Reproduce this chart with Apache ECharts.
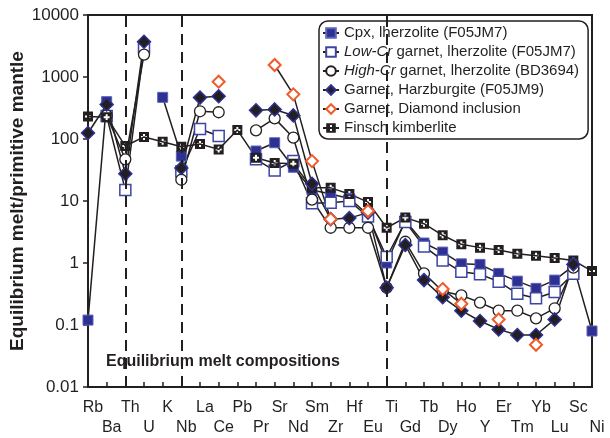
<!DOCTYPE html>
<html>
<head>
<meta charset="utf-8">
<script src="https://cdn.jsdelivr.net/npm/echarts@6/dist/echarts.min.js"></script>
<style>
  html, body { margin: 0; padding: 0; background: #fff; }
  #chart { width: 610px; height: 438px; }
</style>
</head>
<body>
<div id="chart"></div>
<script>
// Trace elements, ordered left to right along the spider diagram
const elements = ['Rb','Ba','Th','U','K','Nb','La','Ce','Pb','Pr','Sr','Nd','Sm','Zr',
                  'Hf','Eu','Ti','Gd','Tb','Dy','Ho','Y','Er','Tm','Yb','Lu','Sc','Ni'];

// Equilibrium melt / primitive mantle (null = not determined)
const cpxLherz = [0.12, 400, null, null, 470, 53, null, null, null, 64, 87, 35, 15, 13,
                  11, 6, 1.0, 4.8, 2.1, 1.5, 0.97, 0.95, 0.68, 0.51, 0.39, 0.53, 0.9, 0.08];
const lowCrGrt = [null, 235, 15, 3000, null, 30, 145, 112, null, 47, 31, 44, 9.2, 9.4,
                  10, 5.6, 1.25, 4.6, 1.85, 1.1, 0.72, 0.66, 0.5, 0.32, 0.27, 0.34, 0.67, null];
const highCrGrt = [null, 240, 47, 2300, null, 22, 280, 270, null, 138, 215, 105, 10.5, 3.7,
                   3.7, 3.7, 0.4, 2.2, 0.68, 0.35, 0.3, 0.23, 0.17, 0.17, 0.128, 0.186, 0.84, null];
const harzGrt = [125, 360, 27.5, 3700, null, 34, 465, 490, null, 290, 300, 240, 19, 5.1,
                 5.3, 6.5, 0.4, 1.95, 0.53, 0.28, 0.17, 0.116, 0.085, 0.069, 0.069, 0.123, 0.95, null];
const diamondInclGrt = [null, null, null, null, null, null, null, 840, null, null, 1560, 525, 44, 5.1,
                        null, 6.9, null, null, null, 0.38, 0.22, null, 0.123, null, 0.048, null, null, null];
const finschKimb = [230, 225, 77, 108, 90, 75, 83, 68, 140, 50, 41, 40, 16.3, 16.3,
                    13, 9.6, 3.7, 5.4, 4.3, 2.8, 2.0, 1.77, 1.62, 1.41, 1.31, 1.2, 1.1, 0.74];

// Decade tick labels of the log axis
const yTickLabels = ['0.01', '0.1', '1', '10', '100', '1000', '10000'];
// Element boundaries marked with dashed lines
const dividers = ['Th', 'Nb', 'Ti'];

const FONT = "'Liberation Sans', Arial, sans-serif";
const INK = '#231f20';
const NAVY = '#2e3192';

// black square with a white cross cut out of it
const KIMB_SYMBOL = 'path://M0,0L10,0L10,10L0,10Z M4,2L4,4L2,4L2,6L4,6L4,8L6,8L6,6L8,6L8,4L6,4L6,2Z';

function lineSeries(name, data, symbol, size, itemStyle, extra) {
  return Object.assign({
    name, type: 'line', data, symbol, symbolSize: size,
    showAllSymbol: true, connectNulls: false, clip: false,
    lineStyle: { color: INK, width: 1.5 },
    itemStyle, emphasis: { disabled: true }
  }, extra || {});
}

const series = [
  lineSeries('Cpx, lherzolite (F05JM7)', cpxLherz, 'rect', 10,
    { color: NAVY, borderColor: '#5b63b8', borderWidth: 1 }, {
      markLine: {
        silent: true, symbol: 'none', label: { show: false },
        lineStyle: { color: INK, width: 2, type: [11, 7] },
        data: dividers.map(d => ({ xAxis: d }))
      }
    }),
  lineSeries('Low-Cr garnet, lherzolite (F05JM7)', lowCrGrt, 'rect', 11,
    { color: '#fff', borderColor: '#3d45a3', borderWidth: 1.5 }),
  lineSeries('High-Cr garnet, lherzolite (BD3694)', highCrGrt, 'circle', 11,
    { color: '#fff', borderColor: INK, borderWidth: 1.3 }),
  lineSeries('Finsch kimberlite', finschKimb, KIMB_SYMBOL, 10,
    { color: INK }),
  lineSeries('Garnet, Harzburgite (F05JM9)', harzGrt, 'diamond', 13,
    { color: INK, borderColor: NAVY, borderWidth: 1.5 }),
  lineSeries('Garnet, Diamond inclusion', diamondInclGrt, 'diamond', 12,
    { color: '#fff', borderColor: '#f15a29', borderWidth: 2 })
];

const legendNames = [
  'Cpx, lherzolite (F05JM7)',
  'Low-Cr garnet, lherzolite (F05JM7)',
  'High-Cr garnet, lherzolite (BD3694)',
  'Garnet, Harzburgite (F05JM9)',
  'Garnet, Diamond inclusion',
  'Finsch kimberlite'
];

const chart = echarts.init(document.getElementById('chart'), null, { renderer: 'canvas' });
chart.setOption({
  animation: false,
  backgroundColor: '#fff',
  textStyle: { fontFamily: FONT, color: INK },
  grid: {
    left: 88, right: 18, top: 15, bottom: 51,
    outerBoundsMode: 'none', containLabel: false,
    show: true, borderColor: INK, borderWidth: 2, backgroundColor: 'transparent'
  },
  legend: {
    data: legendNames,
    orient: 'vertical', left: 319, top: 21,
    padding: [4, 9, 3, 3],
    itemWidth: 16, itemHeight: 12, itemGap: 3,
    backgroundColor: '#fff',
    borderColor: INK, borderWidth: 1.5, borderRadius: 9,
    selectedMode: false,
    formatter: name => name.replace(/^(Low-Cr|High-Cr)/, '{i|$1}'),
    textStyle: {
      fontFamily: FONT, fontSize: 15, color: INK, lineHeight: 16,
      rich: { i: { fontFamily: FONT, fontSize: 15, fontStyle: 'italic', color: INK } }
    }
  },
  xAxis: {
    type: 'category', data: elements, boundaryGap: false,
    axisLine: { lineStyle: { color: INK, width: 2 } },
    axisTick: { inside: true, length: 5, interval: 0, lineStyle: { color: INK, width: 1.5 } },
    axisLabel: {
      interval: 0, fontFamily: FONT, fontSize: 16, color: INK,
      lineHeight: 20, margin: 11, padding: [0, 0, 0, 10],
      formatter: (v, i) => (i % 2 ? '\n' + v : v)
    },
    splitLine: { show: false }
  },
  yAxis: {
    type: 'log', logBase: 10, min: 0.01, max: 10000,
    name: 'Equilibrium melt/primitive mantle',
    nameLocation: 'middle', nameGap: 61, nameMoveOverlap: false,
    nameTextStyle: { fontFamily: FONT, fontSize: 19, fontWeight: 'bold', color: INK },
    axisLine: { show: true, lineStyle: { color: INK, width: 2 } },
    axisTick: { show: true, length: 5, lineStyle: { color: INK, width: 1.5 } },
    axisLabel: {
      fontFamily: FONT, fontSize: 17, color: INK, margin: 9,
      formatter: v => yTickLabels[Math.round(Math.log10(v)) + 2]
    },
    minorTick: { show: false },
    splitLine: { show: false }
  },
  graphic: [{
    type: 'text', left: 106, top: 354, silent: true,
    style: {
      text: 'Equilibrium melt compositions',
      font: "bold 16px 'Liberation Sans', Arial, sans-serif", fill: INK
    }
  }],
  series
});
</script>
</body>
</html>
